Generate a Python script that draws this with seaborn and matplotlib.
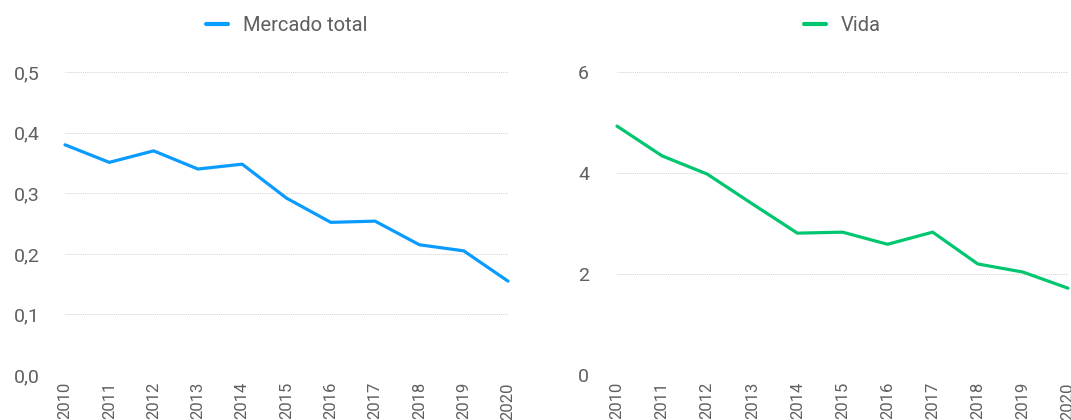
#!/usr/bin/env python3
"""Two-panel line chart: Mercado total vs Vida, 2010-2020."""

import matplotlib
matplotlib.use("Agg")
import matplotlib.pyplot as plt
import matplotlib.ticker as mticker
import pandas as pd
import seaborn as sns

years = list(range(2010, 2021))
mercado_total = [0.38, 0.351, 0.37, 0.34, 0.348, 0.292, 0.252, 0.254, 0.215, 0.205, 0.155]
vida = [4.93, 4.34, 3.98, 3.39, 2.81, 2.83, 2.59, 2.83, 2.20, 2.04, 1.72]

left_ticks = [0.0, 0.1, 0.2, 0.3, 0.4, 0.5]
right_ticks = [0, 2, 4, 6]

BLUE = "#0A9BFF"
GREEN = "#00C66F"
TEXT = "#5f5f5f"
GRID = "#d2d2d2"

sns.set_theme(style="white")
plt.rcParams["font.family"] = ["Roboto", "DejaVu Sans"]

df = pd.DataFrame({"year": years, "Mercado total": mercado_total, "Vida": vida})

fig = plt.figure(figsize=(10.71, 4.2), dpi=100)
ax_l = fig.add_axes([0.0607, 0.107, 0.4136, 0.7214])
ax_r = fig.add_axes([0.5761, 0.107, 0.4211, 0.7214])


def comma_fmt(v, _pos):
    return f"{v:.1f}".replace(".", ",")


panels = [
    (ax_l, "Mercado total", BLUE, left_ticks, mticker.FuncFormatter(comma_fmt), 18),
    (ax_r, "Vida", GREEN, right_ticks, mticker.FuncFormatter(lambda v, p: f"{v:.0f}"), 20),
]

for ax, col, color, ticks, fmt, ypad in panels:
    sns.lineplot(data=df, x="year", y=col, color=color, linewidth=2.3,
                 label=col, ax=ax, clip_on=False)
    ax.set_xlim(2010, 2020)
    ax.set_ylim(ticks[0], ticks[-1])
    ax.set_yticks(ticks)
    ax.yaxis.set_major_formatter(fmt)
    ax.set_xticks(years)
    ax.set_xticklabels([str(y) for y in years], rotation=90)
    ax.set_xlabel("")
    ax.set_ylabel("")
    for s in ax.spines.values():
        s.set_visible(False)
    ax.grid(axis="y", linestyle=(0, (1, 1)), color=GRID, linewidth=0.7)
    ax.grid(axis="x", visible=False)
    ax.tick_params(axis="y", length=0, pad=ypad, labelsize=14, labelcolor=TEXT)
    ax.tick_params(axis="x", length=0, pad=5, labelsize=12, labelcolor=TEXT)
    leg = ax.legend(loc="center", bbox_to_anchor=(0.5, 1.155), frameon=False,
                    fontsize=14.5, handlelength=1.1, handletextpad=0.75)
    for t in leg.get_texts():
        t.set_color(TEXT)
    for h in leg.get_lines():
        h.set_linewidth(3)

fig.savefig("out.png", dpi=100)
plt.close(fig)
